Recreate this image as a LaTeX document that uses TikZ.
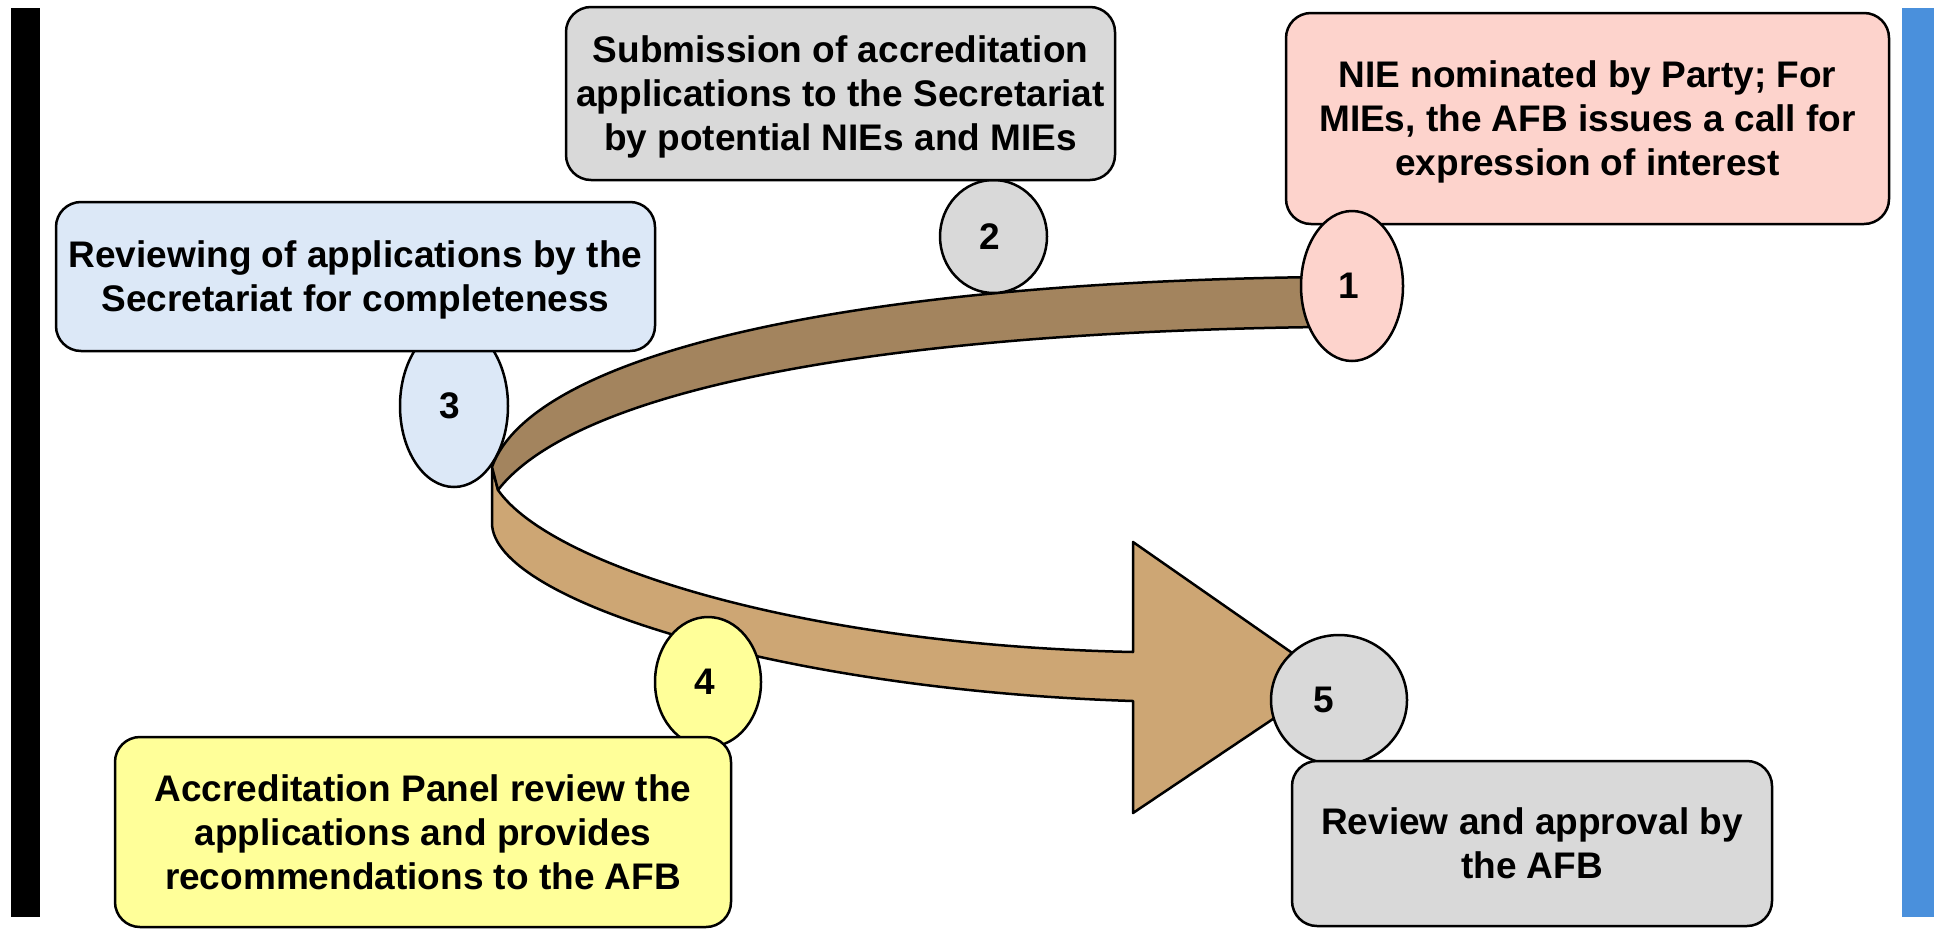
\documentclass[tikz,border=0pt]{standalone}
\usepackage{fontspec}
\setmainfont{Liberation Sans}
\usetikzlibrary{shapes.geometric}
\definecolor{boxgray}{HTML}{D9D9D9}
\definecolor{boxpink}{HTML}{FDD3CC}
\definecolor{boxblue}{HTML}{DCE8F7}
\definecolor{boxyellow}{HTML}{FFFF99}
\definecolor{banddark}{HTML}{A3845E}
\definecolor{bandlight}{HTML}{CDA674}
\definecolor{barblue}{HTML}{4A90DC}
\begin{document}
\begin{tikzpicture}[x=1pt,y=-1pt,
  txt/.style={font=\fontsize{37}{44}\selectfont\bfseries, align=center, text=black},
  rbox/.style={txt, draw=black, line width=2.5pt, rounded corners=25pt, inner sep=0pt, text depth=0pt},
  num/.style={txt, ellipse, draw=black, line width=2.5pt, inner sep=0pt},
  band/.style={draw=black, line width=2.5pt, line join=round}]
\useasboundingbox (0,0) rectangle (1934,929);
% side bars
\fill[black] (11,8) rectangle (40,917);
\fill[barblue] (1902,8) rectangle (1934,917);
% named points of the curved arrow
\coordinate (foldout) at (492,467);
\coordinate (foldin) at (498,490);
\coordinate (foldlow) at (492,523);
\coordinate (topout) at (1320,277);
\coordinate (topin) at (1320,327);
\coordinate (shaftlow) at (1133,701);
\coordinate (shaftup) at (1133,652);
\coordinate (headlow) at (1133,813);
\coordinate (headup) at (1133,542);
\coordinate (tip) at (1331,680);
% lower band with arrow head
\filldraw[band, fill=bandlight] (foldout) -- (foldlow)
  .. controls (492,600) and (780,690) .. (shaftlow) -- (headlow) -- (tip) -- (headup) -- (shaftup)
  .. controls (800,645) and (550,565) .. (foldin) -- cycle;
% upper band
\filldraw[band, fill=banddark] (topout) .. controls (820,283) and (530,360) .. (foldout)
  -- (foldin) .. controls (572,395) and (850,333) .. (topin) -- cycle;
% numbered ellipses
\node[num, fill=boxgray, minimum width=107pt, minimum height=113pt] (n2) at (993.5,236.5) {\kern-8pt 2};
\node[num, fill=boxblue, minimum width=108pt, minimum height=162pt] (n3) at (454,406) {\kern-8pt 3};
\node[num, fill=boxyellow, minimum width=106pt, minimum height=130pt] (n4) at (708,682) {\kern-6pt 4};
\node[num, fill=boxgray, minimum width=136pt, minimum height=130pt] (n5) at (1339,700) {\kern-30pt 5};
% boxes
\node[rbox, fill=boxgray, minimum width=549pt, minimum height=173pt] (b2) at (840.5,93.5)
  {Submission of accreditation\\applications to the Secretariat\\by potential NIEs and MIEs};
\node[rbox, fill=boxpink, minimum width=603pt, minimum height=211pt] (b1) at (1587.5,118.5)
  {NIE nominated by Party; For\\MIEs, the AFB issues a call for\\expression of interest};
\node[rbox, fill=boxblue, minimum width=599pt, minimum height=149pt] (b3) at (355.5,276.5)
  {Reviewing of applications by the\\Secretariat for completeness};
\node[rbox, fill=boxyellow, minimum width=616pt, minimum height=190pt] (b4) at (423,832)
  {Accreditation Panel review the\\applications and provides\\recommendations to the AFB};
\node[rbox, fill=boxgray, minimum width=480pt, minimum height=165pt] (b5) at (1532,843.5)
  {Review and approval by\\the AFB};
\node[num, fill=boxpink, minimum width=102pt, minimum height=150pt] (n1) at (1352,286) {\kern-6pt 1};
\end{tikzpicture}
\end{document}
